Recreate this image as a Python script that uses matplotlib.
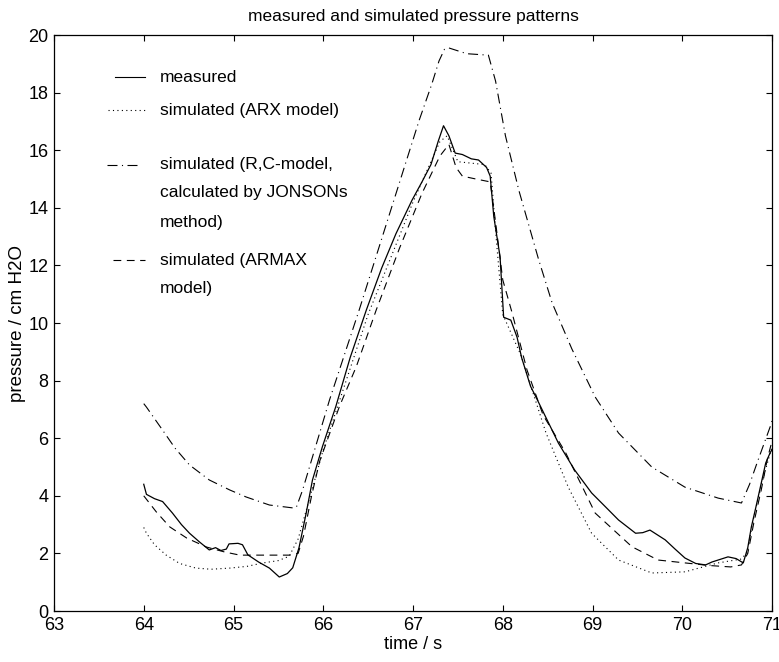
import numpy as np
import matplotlib
matplotlib.use("Agg")
import matplotlib.pyplot as plt

plt.rcParams["font.family"] = ["Liberation Sans", "DejaVu Sans"]

# measured pressure
t_meas = [64.00, 64.03, 64.12, 64.21, 64.32, 64.42, 64.51, 64.62, 64.73, 64.80, 64.86, 64.92,
          64.95, 65.05, 65.10, 65.16, 65.28, 65.40, 65.51, 65.60, 65.66, 65.73, 65.81, 65.88,
          65.99, 66.14, 66.30, 66.48, 66.65, 66.81, 66.99, 67.10, 67.20, 67.28, 67.34, 67.40,
          67.47, 67.55, 67.65, 67.73, 67.82, 67.86, 67.90, 67.94, 67.97, 67.99, 68.01, 68.09,
          68.16, 68.21, 68.31, 68.37, 68.62,
          68.80, 68.99, 69.15, 69.29, 69.48, 69.56, 69.64, 69.72, 69.81, 69.92, 70.03, 70.15,
          70.26, 70.33, 70.40, 70.51, 70.60, 70.68, 70.73, 70.77, 70.82, 70.88, 70.93, 70.98, 71.00]
p_meas = [4.40, 4.05, 3.90, 3.80, 3.40, 3.00, 2.70, 2.40, 2.12, 2.20, 2.10, 2.15,
          2.33, 2.35, 2.30, 1.95, 1.70, 1.49, 1.18, 1.30, 1.50, 2.20, 3.40, 4.55,
          5.70, 7.10, 8.80, 10.45, 11.90, 13.10, 14.27, 14.90, 15.50, 16.30, 16.85, 16.50,
          15.90, 15.85, 15.70, 15.66, 15.40, 15.10, 13.70, 12.90, 12.30, 11.25, 10.20, 10.10,
          9.50, 8.80, 7.80, 7.43, 5.83,
          4.90, 4.10, 3.60, 3.16, 2.70, 2.72, 2.81, 2.65, 2.47, 2.15, 1.84, 1.65,
          1.60, 1.70, 1.77, 1.88, 1.82, 1.67, 2.20, 2.92, 3.60, 4.44, 5.14, 5.50, 5.60]

# ARX model
t_arx = [64.00, 64.03, 64.12, 64.25, 64.40, 64.58, 64.75, 64.96, 65.15, 65.33, 65.50, 65.62,
         65.72, 65.82, 66.00, 66.50, 67.00, 67.30, 67.38, 67.50, 67.80, 67.87, 67.92, 68.00,
         68.20, 68.48, 68.73, 68.99, 69.29, 69.66, 70.03, 70.40, 70.65, 70.72, 70.80, 70.90, 71.00]
p_arx = [2.90, 2.70, 2.30, 1.94, 1.65, 1.49, 1.45, 1.49, 1.55, 1.67, 1.75, 1.90,
         2.50, 3.60, 5.60, 10.30, 14.20, 16.30, 16.50, 15.60, 15.50, 15.20, 13.20, 10.30,
         8.90, 6.20, 4.30, 2.70, 1.77, 1.32, 1.36, 1.67, 1.80, 2.00, 3.30, 4.60, 5.70]

# R,C model (JONSON)
t_rc = [64.00, 64.03, 64.21, 64.35, 64.51, 64.73, 64.96, 65.14, 65.40, 65.66, 65.70, 65.77,
        66.07, 66.40, 67.07, 67.21, 67.29, 67.35, 67.40, 67.60, 67.84, 67.92, 68.03, 68.18,
        68.40, 68.55, 68.77, 69.03, 69.29, 69.66, 70.03, 70.40, 70.66, 70.75, 70.84, 70.98, 71.00]
p_rc = [7.20, 7.08, 6.28, 5.65, 5.07, 4.55, 4.20, 3.96, 3.68, 3.58, 3.60, 4.20,
        7.33, 10.45, 17.05, 18.30, 19.10, 19.50, 19.55, 19.35, 19.30, 18.40, 16.50, 14.60,
        12.20, 10.70, 9.10, 7.43, 6.18, 5.00, 4.30, 3.92, 3.75, 4.40, 5.20, 6.40, 6.60]

# ARMAX model
t_armax = [64.00, 64.14, 64.29, 64.48, 64.70, 64.90, 65.07, 65.35, 65.62, 65.72, 65.78, 65.87,
           65.96, 66.18, 66.37, 66.59, 66.85, 67.10, 67.30, 67.40, 67.48, 67.55, 67.70, 67.86,
           67.92, 68.00, 68.10, 68.27, 68.45, 68.70, 69.03, 69.44, 69.73, 70.03, 70.30, 70.54,
           70.66, 70.73, 70.80, 70.88, 70.95, 71.00]
p_armax = [4.00, 3.44, 2.92, 2.53, 2.22, 2.05, 1.94, 1.94, 1.94, 2.00, 2.60, 4.00,
           5.20, 7.10, 8.50, 10.45, 12.60, 14.50, 15.80, 16.20, 15.40, 15.10, 15.00, 14.90,
           13.50, 11.50, 10.40, 8.37, 6.80, 5.50, 3.40, 2.23, 1.77, 1.67, 1.58, 1.53,
           1.60, 2.00, 3.10, 4.20, 5.30, 5.90]

legend_rows = [("measured",), ("simulated (ARX model)",),
               ("simulated (R,C-model,", "calculated by JONSONs", "method)"),
               ("simulated (ARMAX", "model)")]

fig = plt.figure(figsize=(7.79, 6.62), dpi=100)
W, H = 779, 662
L, R, T, B = 54, 772, 35, 611
ax = fig.add_axes([L / W, 1 - B / H, (R - L) / W, (B - T) / H])

lw = 0.9
ax.plot(t_meas, p_meas, color="black", lw=lw, ls="-")
ax.plot(t_arx, p_arx, color="black", lw=0.8, ls=(0, (1, 3)))
ax.plot(t_rc, p_rc, color="black", lw=0.8, ls=(0, (9, 4, 1, 4)))
ax.plot(t_armax, p_armax, color="black", lw=0.8, ls=(0, (7, 5)))

ax.set_xlim(63, 71)
ax.set_ylim(0, 20)
ax.set_xticks(range(63, 72))
ax.set_yticks(range(0, 21, 2))
ax.tick_params(direction="in", top=True, right=True, length=4, width=0.8, labelsize=13, pad=4)
for s in ax.spines.values():
    s.set_linewidth(0.9)

ax.set_title("measured and simulated pressure patterns", fontsize=12.5, pad=10)
ax.set_xlabel("time / s", fontsize=13, labelpad=2)
ax.set_ylabel("pressure / cm H2O", fontsize=13.5, labelpad=2)

# hand-placed legend like the original
def fy(py):
    return (B - py) / (B - T)

def fx(px):
    return (px - L) / (R - L)

styles = ["-", (0, (1, 3)), (0, (9, 4, 1, 4)), (0, (7, 5))]
sample_px = [(115, 145), (108, 145), (107, 140), (113, 145)]
row_px = [[77], [110], [165, 193, 222], [260, 288]]
for style, (x0, x1), lines, ys in zip(styles, sample_px, legend_rows, row_px):
    ax.plot([fx(x0), fx(x1)], [fy(ys[0]), fy(ys[0])], color="black", lw=0.8, ls=style,
            transform=ax.transAxes)
    for txt, py in zip(lines, ys):
        ax.text(fx(160), fy(py), txt, transform=ax.transAxes, va="center", ha="left", fontsize=12.5)

fig.savefig("out.png", dpi=100)
